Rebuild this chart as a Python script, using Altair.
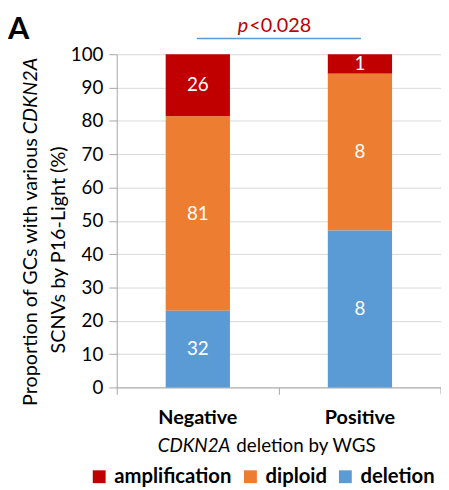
import altair as alt
import pandas as pd

groups = ["Negative", "Positive"]
categories = ["amplification", "diploid", "deletion"]
stack_order = {"deletion": 0, "diploid": 1, "amplification": 2}
counts_negative = [26, 81, 32]
counts_positive = [1, 8, 8]
colors = ["#C00000", "#ED7D31", "#5B9BD5"]
y_ticks = [0, 10, 20, 30, 40, 50, 60, 70, 80, 90, 100]

rows = []
for g, vals in zip(groups, [counts_negative, counts_positive]):
    for c, v in zip(categories, vals):
        rows.append({"group": g, "category": c, "count": v, "ord": stack_order[c]})
df = pd.DataFrame(rows)

FONT = "Lato"
W, H = 328, 337

base = (
    alt.Chart(df)
    .transform_joinaggregate(total="sum(count)", groupby=["group"])
    .transform_calculate(pct="100 * datum.count / datum.total")
    .transform_stack(stack="pct", groupby=["group"], as_=["y0", "y1"],
                     sort=[alt.SortField("ord", order="ascending")])
    .transform_calculate(mid="(datum.y0 + datum.y1) / 2")
)

xscale = alt.Scale(domain=groups, paddingInner=0, paddingOuter=0)
yscale = alt.Scale(domain=[0, 100], nice=False)

xaxis = alt.Axis(title=None, labelAngle=0, labelFont=FONT, labelFontSize=20,
                 labelFontWeight="bold", labelColor="black", labelPadding=14,
                 tickSize=7, bandPosition=0, domainColor="#A6A6A6",
                 tickColor="#A6A6A6", grid=False)
yaxis = alt.Axis(title=None, values=y_ticks, labelFont=FONT,
                 labelFontSize=19, labelColor="black", labelPadding=6,
                 labelOverlap=False,
                 tickSize=8, tickColor="#A6A6A6", domainColor="#A6A6A6",
                 grid=True, gridColor="#D9D9D9")

bars = base.mark_bar(size=65).encode(
    x=alt.X("group:N", scale=xscale, axis=xaxis),
    y=alt.Y("y0:Q", scale=yscale, axis=yaxis),
    y2="y1:Q",
    color=alt.Color(
        "category:N",
        scale=alt.Scale(domain=categories, range=colors),
        legend=alt.Legend(title=None, orient="none", legendX=-28, legendY=417,
                          direction="horizontal", symbolType="square",
                          symbolSize=169, symbolStrokeWidth=0, labelFont=FONT,
                          labelFontSize=20.5, labelFontWeight="bold",
                          labelColor="black", labelOffset=5, columnPadding=8,
                          padding=0),
    ),
)

texts = base.mark_text(color="white", font=FONT, fontSize=19).encode(
    x=alt.X("group:N", scale=xscale, axis=xaxis),
    y=alt.Y("mid:Q", scale=yscale, axis=yaxis),
    text="count:Q",
)


def label(txt, x, y, **kw):
    return alt.Chart(pd.DataFrame({"t": [txt]})).mark_text(font=FONT, **kw).encode(
        x=alt.value(x), y=alt.value(y), text="t:N")


annots = [
    label("A", -110, -15, fontSize=31, fontWeight="bold", align="left",
          baseline="alphabetic", color="black"),
    label("p", 133, -22, fontSize=20, fontStyle="italic", align="right",
          baseline="alphabetic", color="#C00000"),
    label("<0.028", 134, -22, fontSize=20, align="left",
          baseline="alphabetic", color="#C00000"),
    label("Proportion of GCs with various", -87, 85, fontSize=20, angle=270,
          align="right", baseline="middle", color="black"),
    label("CDKN2A", -87, 81, fontSize=20, angle=270, fontStyle="italic",
          align="left", baseline="middle", color="black"),
    label("SCNVs by P16-Light (%)", -58, 198, fontSize=20, angle=270,
          align="center", baseline="middle", color="black"),
    label("CDKN2A", 115, 402, fontSize=19, fontStyle="italic", align="right",
          baseline="alphabetic", color="black"),
    label("deletion by WGS", 121, 402, fontSize=19, align="left",
          baseline="alphabetic", color="black"),
]

pline = alt.Chart(pd.DataFrame({"a": [0]})).mark_rule(
    color="#5B9BD5", strokeWidth=1.5).encode(
    x=alt.value(81), x2=alt.value(247), y=alt.value(-16))

endtick = alt.Chart(pd.DataFrame({"a": [0]})).mark_rule(
    color="#A6A6A6", strokeWidth=1).encode(
    x=alt.value(W), y=alt.value(H), y2=alt.value(H + 7))

chart = alt.layer(bars, texts, pline, endtick, *annots).properties(
    width=W, height=H,
    autosize=alt.AutoSizeParams(type="none"),
    padding={"left": 110, "top": 44, "right": 0, "bottom": 100},
).configure_view(strokeWidth=0)

chart.save("out.html", embed_options={"renderer": "svg", "actions": False})
